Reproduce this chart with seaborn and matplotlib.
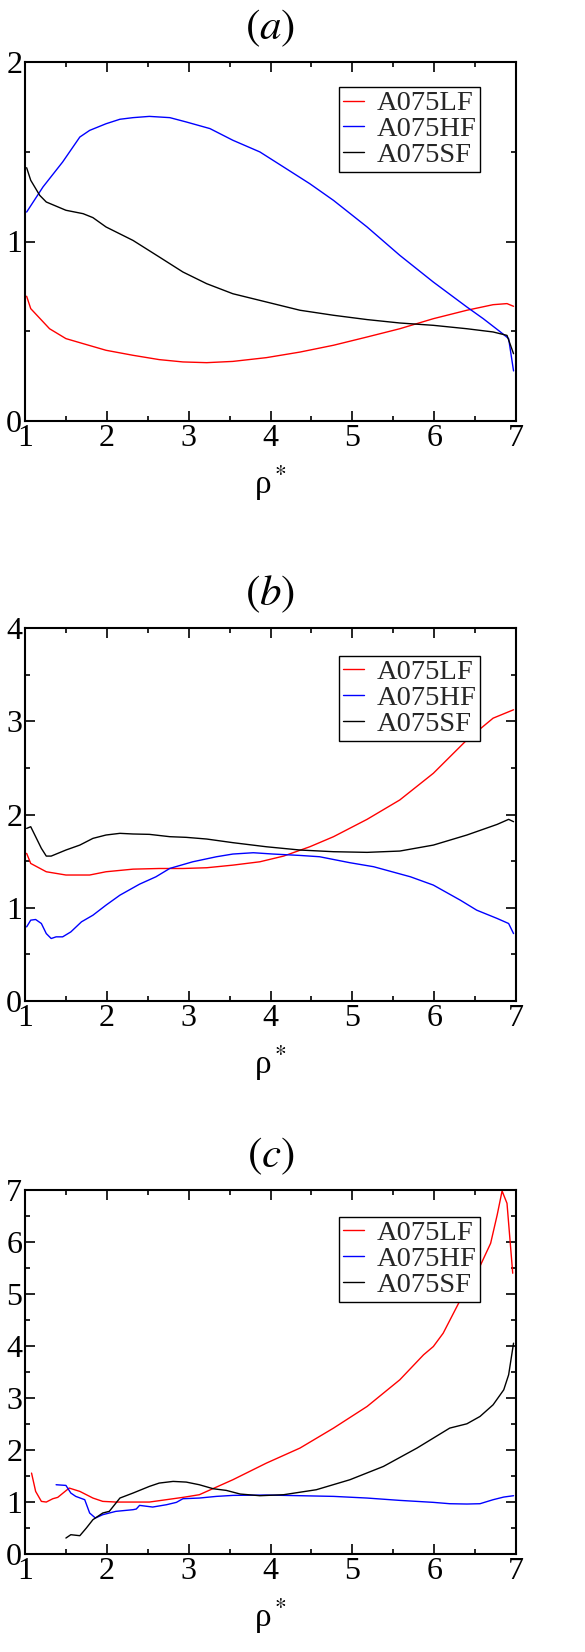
import numpy as np
import pandas as pd
import matplotlib
matplotlib.use("Agg")
import matplotlib.pyplot as plt
from matplotlib.ticker import MultipleLocator
import seaborn as sns

# ---------------- data ----------------
series_names = ["A075LF", "A075HF", "A075SF"]
series_colors = ["#ff0000", "#0000ff", "#000000"]
panel_titles = ["$(a)$", "$(b)$", "$(c)$"]
panel_ymax = [2, 4, 7]

# panel (a)
a_lf_x = [1.02, 1.07, 1.30, 1.50, 1.71, 1.99, 2.32, 2.64, 2.93, 3.22, 3.54, 3.95, 4.36, 4.77, 5.18, 5.58, 5.99, 6.40, 6.72, 6.89, 6.97]
a_lf_y = [0.695, 0.626, 0.514, 0.459, 0.431, 0.394, 0.366, 0.342, 0.329, 0.325, 0.332, 0.353, 0.384, 0.422, 0.468, 0.514, 0.570, 0.617, 0.648, 0.654, 0.639]
a_hf_x = [1.02, 1.22, 1.46, 1.67, 1.79, 1.99, 2.16, 2.32, 2.52, 2.77, 2.97, 3.26, 3.54, 3.87, 4.16, 4.48, 4.77, 5.18, 5.58, 5.99, 6.40, 6.60, 6.81, 6.91, 6.97]
a_hf_y = [1.164, 1.304, 1.443, 1.582, 1.619, 1.656, 1.681, 1.690, 1.697, 1.690, 1.666, 1.629, 1.564, 1.499, 1.415, 1.322, 1.229, 1.081, 0.923, 0.774, 0.635, 0.570, 0.496, 0.459, 0.279]
a_sf_x = [1.02, 1.07, 1.18, 1.26, 1.50, 1.71, 1.83, 1.99, 2.32, 2.64, 2.93, 3.22, 3.54, 3.95, 4.36, 4.77, 5.18, 5.58, 5.99, 6.40, 6.72, 6.89, 6.97]
a_sf_y = [1.411, 1.341, 1.257, 1.220, 1.174, 1.155, 1.133, 1.081, 1.006, 0.914, 0.830, 0.765, 0.709, 0.663, 0.617, 0.589, 0.565, 0.546, 0.533, 0.514, 0.496, 0.477, 0.375]

# panel (b)
b_lf_x = [1.02, 1.07, 1.26, 1.50, 1.79, 1.99, 2.32, 2.64, 2.93, 3.22, 3.54, 3.87, 4.16, 4.48, 4.77, 5.18, 5.58, 5.99, 6.40, 6.72, 6.97]
b_lf_y = [1.583, 1.475, 1.386, 1.351, 1.351, 1.386, 1.414, 1.421, 1.421, 1.429, 1.457, 1.493, 1.554, 1.654, 1.762, 1.948, 2.156, 2.442, 2.800, 3.033, 3.123]
b_hf_x = [1.02, 1.07, 1.13, 1.20, 1.26, 1.32, 1.38, 1.46, 1.56, 1.69, 1.83, 1.99, 2.16, 2.40, 2.60, 2.77, 3.05, 3.34, 3.54, 3.79, 4.03, 4.36, 4.60, 4.97, 5.26, 5.71, 5.99, 6.32, 6.52, 6.77, 6.91, 6.97]
b_hf_y = [0.795, 0.867, 0.874, 0.831, 0.723, 0.670, 0.688, 0.688, 0.741, 0.849, 0.920, 1.028, 1.135, 1.253, 1.332, 1.422, 1.493, 1.547, 1.576, 1.590, 1.576, 1.561, 1.547, 1.483, 1.440, 1.332, 1.243, 1.081, 0.974, 0.885, 0.831, 0.723]
b_sf_x = [1.02, 1.07, 1.13, 1.20, 1.26, 1.32, 1.50, 1.67, 1.83, 1.99, 2.16, 2.32, 2.52, 2.77, 2.97, 3.22, 3.54, 3.95, 4.36, 4.77, 5.18, 5.58, 5.99, 6.40, 6.77, 6.91, 6.97]
b_sf_y = [1.851, 1.869, 1.762, 1.637, 1.554, 1.554, 1.619, 1.672, 1.744, 1.780, 1.798, 1.791, 1.787, 1.762, 1.755, 1.737, 1.698, 1.654, 1.619, 1.601, 1.594, 1.608, 1.672, 1.780, 1.894, 1.948, 1.923]

# panel (c)
c_lf_x = [1.08, 1.13, 1.20, 1.26, 1.34, 1.40, 1.54, 1.67, 1.83, 1.95, 2.11, 2.52, 2.93, 3.13, 3.54, 3.95, 4.36, 4.77, 5.18, 5.58, 5.87, 5.99, 6.11, 6.32, 6.52, 6.69, 6.77, 6.83, 6.89, 6.96]
c_lf_y = [1.556, 1.204, 1.012, 0.999, 1.063, 1.089, 1.268, 1.204, 1.076, 1.012, 0.999, 0.999, 1.089, 1.140, 1.428, 1.748, 2.037, 2.421, 2.837, 3.350, 3.830, 3.990, 4.246, 4.887, 5.399, 5.975, 6.520, 6.981, 6.744, 5.399]
c_hf_x = [1.38, 1.50, 1.56, 1.62, 1.73, 1.79, 1.86, 1.95, 2.11, 2.32, 2.36, 2.40, 2.56, 2.73, 2.85, 2.93, 3.13, 3.34, 3.54, 3.95, 4.36, 4.77, 5.18, 5.58, 5.99, 6.19, 6.40, 6.56, 6.72, 6.85, 6.97]
c_hf_y = [1.332, 1.319, 1.172, 1.108, 1.044, 0.788, 0.692, 0.756, 0.820, 0.852, 0.865, 0.935, 0.903, 0.948, 0.993, 1.063, 1.076, 1.108, 1.127, 1.134, 1.121, 1.108, 1.076, 1.031, 0.993, 0.967, 0.961, 0.967, 1.044, 1.095, 1.121]
c_sf_x = [1.50, 1.56, 1.67, 1.75, 1.83, 1.95, 2.03, 2.16, 2.32, 2.52, 2.64, 2.81, 2.97, 3.13, 3.30, 3.46, 3.63, 3.87, 4.16, 4.56, 4.97, 5.38, 5.79, 5.99, 6.19, 6.40, 6.56, 6.72, 6.85, 6.91, 6.97]
c_sf_y = [0.307, 0.371, 0.352, 0.500, 0.660, 0.788, 0.820, 1.076, 1.172, 1.300, 1.364, 1.396, 1.383, 1.332, 1.255, 1.223, 1.153, 1.121, 1.140, 1.236, 1.428, 1.684, 2.037, 2.229, 2.421, 2.504, 2.645, 2.869, 3.157, 3.446, 4.054]

panels = [
    [(a_lf_x, a_lf_y), (a_hf_x, a_hf_y), (a_sf_x, a_sf_y)],
    [(b_lf_x, b_lf_y), (b_hf_x, b_hf_y), (b_sf_x, b_sf_y)],
    [(c_lf_x, c_lf_y), (c_hf_x, c_hf_y), (c_sf_x, c_sf_y)],
]

# ---------------- style ----------------
sns.set_theme(style="white")
plt.rcParams["font.family"] = ["Liberation Serif", "DejaVu Serif"]
plt.rcParams["mathtext.fontset"] = "stix"

W, H = 585, 1652
fig = plt.figure(figsize=(W / 100, H / 100), dpi=100)
fig.patch.set_facecolor("white")

# axes pixel boxes (left, top, right, bottom)
boxes = [(25, 62, 516, 421), (25, 628, 516, 1001), (25, 1190, 516, 1554)]
legend_tops = [0.930, 0.925, 0.926]

for i, (box, data) in enumerate(zip(boxes, panels)):
    l, t, r, b = box
    ax = fig.add_axes([l / W, 1 - b / H, (r - l) / W, (b - t) / H])
    ax.set_facecolor("white")
    frames = []
    for name, (xs, ys) in zip(series_names, data):
        frames.append(pd.DataFrame({"x": xs, "y": ys, "series": name}))
    df = pd.concat(frames, ignore_index=True)
    sns.lineplot(data=df, x="x", y="y", hue="series", hue_order=series_names,
                 palette=series_colors, sort=False, estimator=None,
                 linewidth=1.0, ax=ax)
    ax.set_xlim(1, 7)
    ax.set_ylim(0, panel_ymax[i])
    ax.xaxis.set_major_locator(MultipleLocator(1))
    ax.xaxis.set_minor_locator(MultipleLocator(0.5))
    ax.yaxis.set_major_locator(MultipleLocator(1))
    ax.yaxis.set_minor_locator(MultipleLocator(0.5))
    ax.tick_params(which="both", direction="in", top=True, right=True,
                   bottom=True, left=True, colors="black")
    ax.tick_params(which="major", length=7, width=1.2, labelsize=23, pad=2)
    ax.tick_params(which="minor", length=3.5, width=1.2)
    for sp in ax.spines.values():
        sp.set_color("black")
        sp.set_linewidth(1.5)
    ax.set_xlabel("ρ$^*$", fontsize=24, labelpad=8, color="black")
    ax.set_ylabel("")
    hpx = b - t
    ax.text(0.5, 1 + 34 / hpx, panel_titles[i], transform=ax.transAxes,
            ha="center", va="center", fontsize=31, color="black")
    leg = ax.legend(loc="upper right", bbox_to_anchor=(0.927, legend_tops[i]),
                    fontsize=20.5, frameon=True, fancybox=False, framealpha=1,
                    edgecolor="black", handlelength=0.75, handletextpad=0.45,
                    labelspacing=0.0, borderpad=0.12, borderaxespad=0.0)
    leg.get_frame().set_linewidth(1.0)

fig.savefig("out.png", dpi=100, facecolor="white")
